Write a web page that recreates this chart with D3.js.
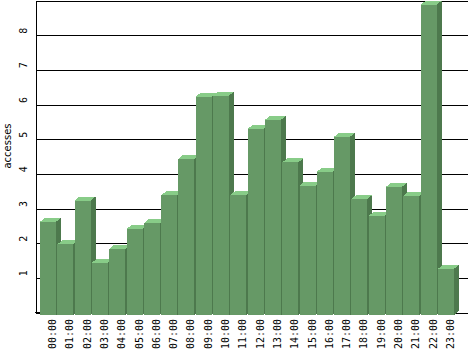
<!DOCTYPE html>
<html>
<head>
<meta charset="utf-8">
<script src="https://cdn.jsdelivr.net/npm/d3@7"></script>
<style>
  body { margin: 0; background: #fff; }
  svg { display: block; }
</style>
</head>
<body>
<div id="chart"></div>
<script>
// hourly accesses
var hours = ["00:00","01:00","02:00","03:00","04:00","05:00","06:00","07:00","08:00","09:00","10:00","11:00",
             "12:00","13:00","14:00","15:00","16:00","17:00","18:00","19:00","20:00","21:00","22:00","23:00"]
var accesses = [2.69, 2.04, 3.30, 1.51, 1.91, 2.48, 2.65, 3.45, 4.51, 6.30, 6.33, 3.46,
                5.37, 5.63, 4.40, 3.73, 4.13, 5.14, 3.35, 2.86, 3.70, 3.44, 8.95, 1.33]
var yTicks = [0, 1, 2, 3, 4, 5, 6, 7, 8, 9]

var width = 468, height = 351
var left = 35, base = 312
var barW = 16, dx = 5, dy = 4, drop = 3   // 3d look of the bars

var svg = d3.select('#chart').append('svg')
    .attr('width', width)
    .attr('height', height)

svg.append('rect').attr('width', width).attr('height', height).attr('fill', '#fff')

var y = d3.scaleLinear().domain([0, 9]).range([base, 0])
var x = d3.scaleBand().domain(hours).range([40, 40 + 24 * 17.3]).padding(0)

// gridlines + left axis
var yAxis = svg.append('g')
    .attr('transform', 'translate(' + (left + 0.5) + ',0.5)')
    .attr('shape-rendering', 'crispEdges')
    .call(d3.axisLeft(y).tickValues(yTicks).tickSizeInner(-(width - left)).tickSizeOuter(0)
        .tickFormat(d => (d > 0 && d < 9) ? d : ''))

yAxis.select('.domain').attr('stroke', '#000')
yAxis.selectAll('.tick line').attr('stroke', '#000').attr('x2', width - left)
yAxis.selectAll('.tick line').attr('x1', 0)
yAxis.selectAll('.tick text')
    .attr('x', null).attr('dy', null)
    .attr('text-anchor', 'middle')
    .attr('transform', 'translate(-9,-5) rotate(-90)')
    .attr('fill', '#000')
    .style('font-family', 'DejaVu Sans Mono')
    .style('font-size', '10px')

// small bit of baseline left of the first bar
svg.append('line')
    .attr('x1', left).attr('x2', 40)
    .attr('y1', base + 0.5).attr('y2', base + 0.5)
    .attr('stroke', '#000')

// bars, drawn left to right so each covers the side of the previous one
var bars = svg.append('g')
    .selectAll('g')
    .data(hours.map((h, i) => ({h: h, v: accesses[i]})))
    .join('g')
    .attr('shape-rendering', 'crispEdges')

bars.each(function(d) {
    var g = d3.select(this)
    var x0 = x(d.h), x1 = x0 + barW
    var yt = y(d.v) + drop, yb = y(0) + drop

    g.append('polygon')
        .attr('points', [[x1, yt], [x1 + dx, yt - dy], [x1 + dx, yb - dy], [x1, yb]].join(' '))
        .attr('fill', '#4d794d')
    g.append('polygon')
        .attr('points', [[x0, yt], [x0 + dx, yt - dy], [x1 + dx, yt - dy], [x1, yt]].join(' '))
        .attr('fill', '#88cc88')
    g.append('rect')
        .attr('x', x0).attr('y', yt)
        .attr('width', barW).attr('height', yb - yt)
        .attr('fill', '#669966')
})

// hour labels
svg.append('g')
    .selectAll('text')
    .data(hours)
    .join('text')
    .attr('transform', d => 'translate(' + (x(d) + 16) + ',319) rotate(-90)')
    .attr('text-anchor', 'end')
    .style('font-family', 'DejaVu Sans Mono')
    .style('font-size', '10px')
    .attr('fill', '#000')
    .text(d => d)

// axis title
svg.append('text')
    .attr('transform', 'translate(10.5,146) rotate(-90)')
    .attr('text-anchor', 'middle')
    .style('font-family', 'DejaVu Sans')
    .style('font-size', '10px')
    .attr('fill', '#000')
    .text('accesses')
</script>
</body>
</html>
